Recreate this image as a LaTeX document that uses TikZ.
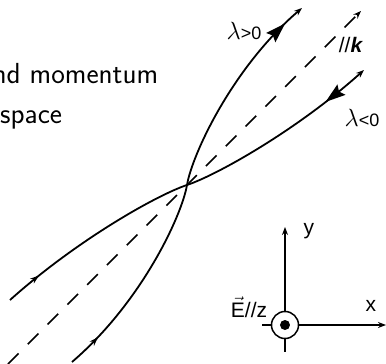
\documentclass[tikz,border=0pt]{standalone}
\usepackage{amsmath,amssymb}
\usepackage{fontspec}
\newfontfamily\labelfont{Liberation Sans}
\usepackage{tikz}
\usetikzlibrary{arrows.meta,decorations.markings,calc}

\begin{document}
\begin{tikzpicture}[x=1pt,y=1pt,
            every node/.style={inner sep=0pt},
            curve/.style={line width=1.8pt,-{Stealth[length=8pt,width=6pt]}},
            dashline/.style={line width=1.6pt,dash pattern=on 15pt off 13pt,-{Stealth[length=8pt,width=6pt]}},
            axisline/.style={line width=1.5pt,-{Stealth[length=8pt,width=6pt]}},
            tickline/.style={line width=1.5pt},
            smallfwd/.style={postaction={decorate,decoration={markings,
                mark=at position #1 with {\arrow{Stealth[length=9pt,width=6pt]}}}}},
            bigfwd/.style={postaction={decorate,decoration={markings,
                mark=at position #1 with {\arrow{Stealth[length=20pt,width=13pt,inset=3pt]}}}}},
            bigback/.style={postaction={decorate,decoration={markings,
                mark=at position #1 with {\arrowreversed{Stealth[length=20pt,width=13pt,inset=3pt]}}}}},
            slidetext/.style={font=\sffamily\fontsize{29}{35}\selectfont,anchor=base west},
            lbl/.style={font=\labelfont\fontsize{18}{18}\selectfont},
            axlbl/.style={font=\labelfont\fontsize{21}{21}\selectfont}
        ]
            \useasboundingbox (-187,-179) rectangle (199,185);
            % text left over from the slide
            \node[slidetext] (line1) at (-194.6,101) {nd momentum};
            \node[slidetext] (line2) at (-187,61) {space};
            % the two helicity branches and the k direction
            \coordinate (cross) at (0,0);
            \coordinate (pstart) at (-115,-177);
            \coordinate (pend) at (115,177);
            \coordinate (mstart) at (-177,-115);
            \coordinate (mend) at (177,115);
            \coordinate (kstart) at (-179,-179);
            \coordinate (kend) at (174,174);
            \draw[dashline] (kstart) -- (kend);
            \draw[curve,smallfwd=36pt,bigfwd=-23pt]
                (pstart) .. controls (-45,-117) and (-5,-30) .. (cross)
                .. controls (5,30) and (45,117) .. (pend);
            \draw[curve,smallfwd=38pt,bigback=-50pt]
                (mstart) .. controls (-110,-55) and (-30,-10) .. (cross)
                .. controls (30,10) and (110,55) .. (mend);
            \node[lbl] (lpos) at (57,154) {{\fontsize{25}{25}\selectfont$\lambda$}>0};
            \node[lbl,font=\labelfont\fontsize{21}{21}\selectfont] (kdir) at (164,140) {//\textbf{\textit{k}}};
            \node[lbl] (lneg) at (175,67) {{\fontsize{25}{25}\selectfont$\lambda$}<0};
            % axes with the field out of the page
            \node[circle,draw,line width=1.5pt,minimum size=27pt] (orig) at (98,-140) {};
            \fill (orig.center) circle (5pt);
            \coordinate (ytip) at (98,-42);
            \coordinate (xtip) at (199,-140);
            \draw[axisline] (orig.north) -- (ytip);
            \draw[axisline] (orig.east) -- (xtip);
            \draw[tickline] (orig.west) -- ++(-8.5,0);
            \draw[tickline] (orig.south) -- ++(0,-12.5);
            \node[axlbl] (ylbl) at (122,-46) {y};
            \node[axlbl] (xlbl) at (184,-121) {x};
            \node[axlbl] (elbl) at (62,-122) {$\vec{\text{E}}$//z};
        \end{tikzpicture}
\end{document}
